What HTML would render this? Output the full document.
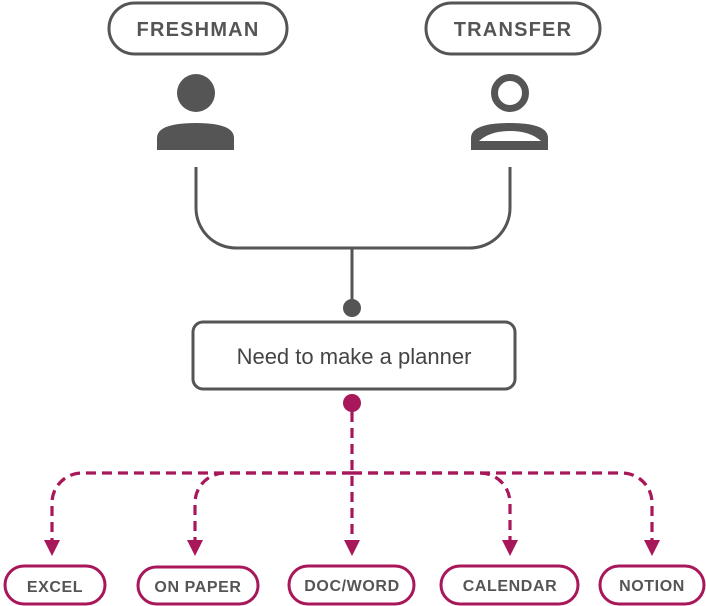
<!DOCTYPE html>
<html><head><style>
body{margin:0;background:#fff;}
svg{display:block;font-family:"Liberation Sans",sans-serif;}
</style></head><body>
<svg width="706" height="606" viewBox="0 0 706 606">
<g fill="none" stroke="#555" stroke-width="3">
<rect x="109" y="3" width="178" height="51" rx="25.5"/>
<rect x="426" y="3" width="174" height="51" rx="25.5"/>
<path d="M196 167 V208 A40 40 0 0 0 236 248 H470 A40 40 0 0 0 510 208 V167"/>
<path d="M352 248 V302"/>
<rect x="193" y="322" width="322" height="67" rx="10"/>
</g>
<g fill="#555" font-size="20" font-weight="bold" text-anchor="middle" letter-spacing="1.2">
<text x="198" y="36">FRESHMAN</text>
<text x="513" y="36">TRANSFER</text>
</g>
<circle cx="196" cy="93" r="19" fill="#555"/>
<path d="M157 150 V138 Q157 123 196 123 Q234 123 234 138 V150 Z" fill="#555"/>
<circle cx="510" cy="93" r="15.5" fill="none" stroke="#555" stroke-width="7"/>
<path d="M471 150 V138 Q471 123 510 123 Q548 123 548 138 V150 Z" fill="#555"/>
<path d="M479 141 Q490 131 510 131 Q530 131 541 141 Z" fill="#fff"/>
<circle cx="352" cy="308" r="9" fill="#555"/>
<text x="354" y="364" font-size="22" fill="#444" text-anchor="middle">Need to make a planner</text>
<circle cx="352" cy="403" r="9" fill="#a8175a"/>
<g fill="none" stroke="#a8175a" stroke-width="3.2" stroke-dasharray="10 6">
<path d="M352 412 V542"/>
<path d="M352 473 H82 A30 30 0 0 0 52 503 V542"/>
<path d="M352 473 H225 A30 30 0 0 0 195 503 V542"/>
<path d="M352 473 H480 A30 30 0 0 1 510 503 V542"/>
<path d="M352 473 H622 A30 30 0 0 1 652 503 V542"/>
</g>
<g fill="#a8175a">
<path d="M44 540 L60 540 L52 556 Z"/>
<path d="M187 540 L203 540 L195 556 Z"/>
<path d="M344 540 L360 540 L352 556 Z"/>
<path d="M502 540 L518 540 L510 556 Z"/>
<path d="M644 540 L660 540 L652 556 Z"/>
</g>
<g fill="none" stroke="#a8175a" stroke-width="3">
<rect x="5" y="566" width="100" height="38" rx="19"/>
<rect x="138" y="567" width="120" height="37" rx="18.5"/>
<rect x="289" y="566" width="125" height="38" rx="19"/>
<rect x="441" y="566" width="137" height="38" rx="19"/>
<rect x="600" y="566" width="104" height="38" rx="19"/>
</g>
<g fill="#555" font-size="16" font-weight="bold" text-anchor="middle" letter-spacing="0.6">
<text x="55" y="592">EXCEL</text>
<text x="198" y="592">ON PAPER</text>
<text x="352" y="591">DOC/WORD</text>
<text x="510" y="591">CALENDAR</text>
<text x="652" y="591">NOTION</text>
</g>
</svg>
</body></html>
